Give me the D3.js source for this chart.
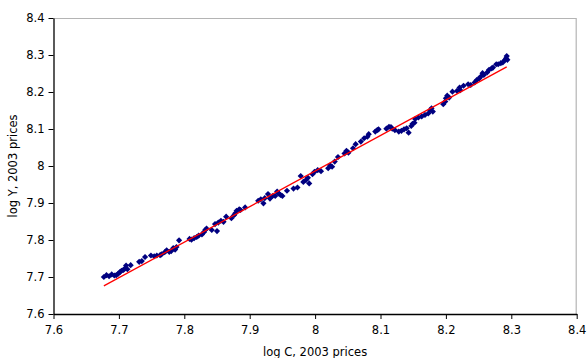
<!DOCTYPE html>
<html>
<head>
<meta charset="utf-8">
<script src="https://cdn.jsdelivr.net/npm/d3@7"></script>
<style>
  body { margin: 0; background: #fff; }
  svg text { font-family: "DejaVu Sans", Verdana, sans-serif; fill: #000; }
</style>
</head>
<body>
<div id="chart"></div>
<script>
// log C (x) and log Y (y)
const logC = [
  7.677, 7.681, 7.685, 7.689, 7.693, 7.696, 7.699, 7.702, 7.704, 7.707, 7.709, 7.711, 7.713, 7.718,
  7.731, 7.735, 7.740, 7.749, 7.754, 7.758, 7.763, 7.765, 7.770, 7.773, 7.777, 7.780, 7.783, 7.786,
  7.788, 7.792, 7.808, 7.811, 7.815, 7.819, 7.822, 7.827, 7.830,
  7.832, 7.834, 7.842, 7.847, 7.850, 7.852, 7.856, 7.860, 7.864, 7.872, 7.876, 7.878, 7.880, 7.884,
  7.886, 7.893, 7.913, 7.917, 7.921, 7.923, 7.928, 7.931, 7.935, 7.939, 7.942, 7.944, 7.947, 7.950,
  7.957, 7.967, 7.973, 7.978, 7.982, 7.986, 7.989, 7.991,
  7.996, 7.999, 8.004, 8.009, 8.020, 8.023, 8.026, 8.030, 8.035, 8.045, 8.048, 8.051, 8.058, 8.062,
  8.070, 8.075, 8.080, 8.082, 8.092, 8.095, 8.097, 8.109, 8.113, 8.116, 8.118, 8.122, 8.128, 8.132,
  8.136, 8.140, 8.143, 8.147, 8.149, 8.152,
  8.153, 8.158, 8.163, 8.168, 8.173, 8.176, 8.178, 8.180, 8.196, 8.199, 8.200, 8.202, 8.205, 8.210,
  8.217, 8.221, 8.222, 8.227, 8.234, 8.238, 8.244, 8.247, 8.251, 8.253, 8.256, 8.258, 8.263, 8.266,
  8.270, 8.272, 8.277, 8.280, 8.284, 8.287, 8.290, 8.292, 8.293, 8.294
];
const logY = [
  7.700, 7.705, 7.702, 7.707, 7.704, 7.705, 7.709, 7.714, 7.717, 7.719, 7.723, 7.731, 7.721, 7.732,
  7.741, 7.743, 7.754, 7.758, 7.756, 7.758, 7.759, 7.761, 7.767, 7.772, 7.768, 7.770, 7.778, 7.774,
  7.781, 7.799, 7.803, 7.801, 7.805, 7.808, 7.812, 7.815, 7.821,
  7.827, 7.831, 7.827, 7.843, 7.824, 7.847, 7.852, 7.849, 7.863, 7.859, 7.867, 7.872, 7.879, 7.883,
  7.881, 7.888, 7.906, 7.910, 7.899, 7.913, 7.924, 7.912, 7.919, 7.919, 7.931, 7.926, 7.922, 7.919,
  7.933, 7.939, 7.942, 7.973, 7.957, 7.962, 7.968, 7.953,
  7.978, 7.984, 7.989, 7.986, 7.994, 8.002, 7.998, 8.012, 8.024, 8.034, 8.041, 8.036, 8.048, 8.059,
  8.066, 8.075, 8.079, 8.086, 8.093, 8.097, 8.099, 8.101, 8.106, 8.105, 8.101, 8.097, 8.093, 8.095,
  8.099, 8.102, 8.090, 8.108, 8.114, 8.117,
  8.127, 8.131, 8.134, 8.138, 8.142, 8.151, 8.156, 8.147, 8.167, 8.174, 8.183, 8.190, 8.185, 8.201,
  8.203, 8.212, 8.205, 8.217, 8.221, 8.219, 8.226, 8.232, 8.237, 8.241, 8.251, 8.246, 8.253, 8.260,
  8.264, 8.266, 8.275, 8.275, 8.278, 8.280, 8.286, 8.291, 8.297, 8.287
];
// fitted line end points
const fitX = [7.677, 8.293];
const fitY = [7.676, 8.268];
const xTicks = [7.6, 7.7, 7.8, 7.9, 8, 8.1, 8.2, 8.3, 8.4];
const yTicks = [7.6, 7.7, 7.8, 7.9, 8, 8.1, 8.2, 8.3, 8.4];

const width = 587, height = 358;
const margin = { top: 18, right: 10, bottom: 44, left: 53.5 };
const plotW = 576.7 - margin.left;
const plotH = 314 - margin.top;

const svg = d3.select("#chart").append("svg")
  .attr("width", width)
  .attr("height", height);

const g = svg.append("g")
  .attr("transform", `translate(${margin.left},${margin.top})`);

const x = d3.scaleLinear().domain([7.6, 8.4]).range([0, plotW]);
const y = d3.scaleLinear().domain([7.6, 8.4]).range([plotH, 0]);

// grey frame on top and right
g.append("path")
  .attr("d", `M0,0.5H${plotW - 0.5}V${plotH}`)
  .attr("fill", "none")
  .attr("stroke", "#b4b4b4")
  .attr("stroke-width", 1.2);

const fmt = d => (d === 8 ? "8" : d3.format(".1f")(d));

const xAxis = g.append("g")
  .attr("transform", `translate(0,${plotH})`)
  .call(d3.axisBottom(x).tickValues(xTicks).tickFormat(fmt).tickSize(5).tickSizeOuter(0));
const yAxis = g.append("g")
  .call(d3.axisLeft(y).tickValues(yTicks).tickFormat(fmt).tickSize(5).tickSizeOuter(0));

[xAxis, yAxis].forEach(a => {
  a.select(".domain").attr("stroke", "#000").attr("stroke-width", 1.3);
  a.selectAll(".tick line").attr("stroke", "#000");
  a.selectAll(".tick text")
    .style("font-family", "DejaVu Sans, sans-serif")
    .style("font-size", "11.5px")
    .attr("fill", "#222");
});
xAxis.selectAll(".tick text").attr("dy", "1.05em");
yAxis.selectAll(".tick text").attr("x", -9);

// points
const pts = d3.range(logC.length).map(i => ({ c: logC[i], yv: logY[i] }));
const diamond = d3.symbol().type(d3.symbolSquare).size(19);
g.append("g").selectAll("path")
  .data(pts)
  .join("path")
  .attr("d", diamond)
  .attr("transform", d => `translate(${x(d.c)},${y(d.yv)}) rotate(45)`)
  .attr("fill", "#000080");

// fitted line
g.append("line")
  .attr("x1", x(fitX[0])).attr("y1", y(fitY[0]))
  .attr("x2", x(fitX[1])).attr("y2", y(fitY[1]))
  .attr("stroke", "#ff0000")
  .attr("stroke-width", 1.3);

// axis titles
svg.append("text")
  .text("log C, 2003 prices")
  .attr("x", margin.left + plotW / 2)
  .attr("y", 356)
  .attr("text-anchor", "middle")
  .style("font-size", "11.5px");

svg.append("text")
  .text("log Y, 2003 prices")
  .attr("transform", `translate(17,${margin.top + plotH / 2}) rotate(-90)`)
  .attr("text-anchor", "middle")
  .style("font-size", "11.5px");
</script>
</body>
</html>
